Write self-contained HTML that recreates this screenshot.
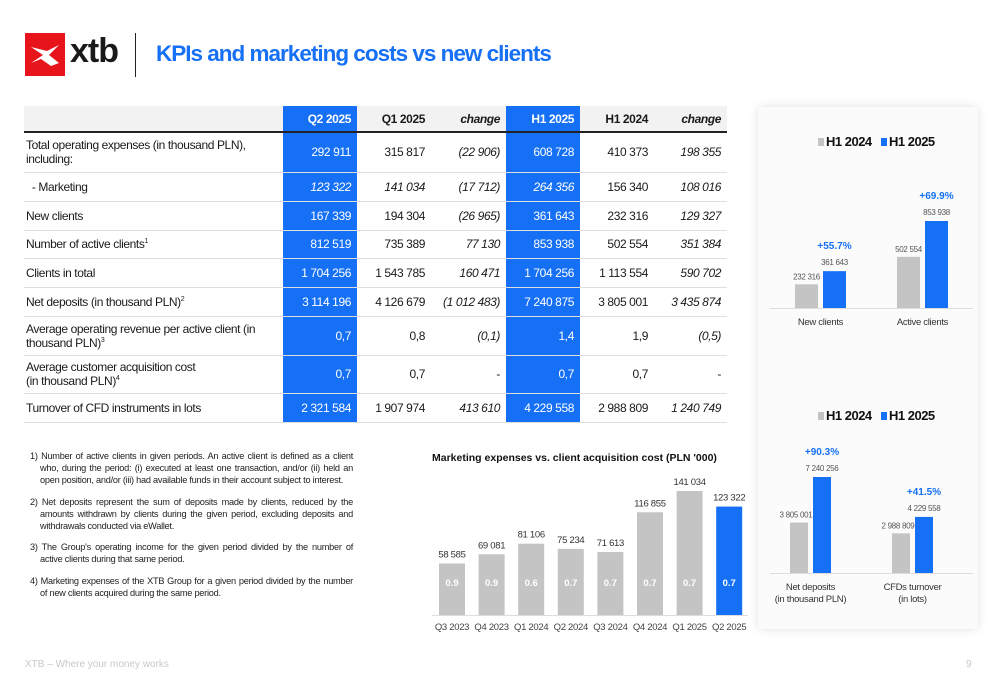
<!DOCTYPE html>
<html><head><meta charset="utf-8">
<style>
*{margin:0;padding:0;box-sizing:border-box}
body{width:1000px;height:685px;background:#fff;font-family:"Liberation Sans",sans-serif;position:relative;overflow:hidden;color:#1a1a1a}
.abs{position:absolute}
table{position:absolute;left:24px;top:106px;border-collapse:collapse;font-size:12px;letter-spacing:-0.4px}
td,th{border-bottom:1px solid #dedede;padding:0 6px;text-align:right}
th{height:26px;background:#f2f2f2;font-weight:bold;border-bottom:2px solid #222}
td.l{text-align:left;padding-left:2px}
.b{background:#1570f5;color:#fff}
.i{font-style:italic}
.notes{left:30px;top:450px;width:323px;font-size:9.2px;line-height:12.2px;color:#222;letter-spacing:-0.25px}
.notes p{margin-bottom:9px;padding-left:10px;text-indent:-10px;text-align:justify}
</style></head><body>
<div class="abs" style="left:25px;top:33px;width:40px;height:43px;background:#e8141c"><svg width="40" height="43"><path d="M6 14 L18 22 L6 30 L16 26 L26 33 L34 30 L24 22 L34 12 L22 18 Z" fill="#fff"/></svg></div>
<div class="abs" style="left:70px;top:32px;font-size:34px;font-weight:bold;letter-spacing:-1px">xtb</div>
<div class="abs" style="left:135px;top:33px;width:1px;height:44px;background:#222"></div>
<div class="abs" style="left:156px;top:41px;font-size:22.5px;font-weight:bold;color:#1570f5;letter-spacing:-1px">KPIs and marketing costs vs new clients</div>

<table>
<colgroup><col style="width:259px"><col style="width:74px"><col style="width:74px"><col style="width:75px"><col style="width:74px"><col style="width:74px"><col style="width:73px"></colgroup>
<tr><th></th><th class="b">Q2 2025</th><th>Q1 2025</th><th class="i">change</th><th class="b">H1 2025</th><th>H1 2024</th><th class="i">change</th></tr>
<tr style="height:40px"><td class="l">Total operating expenses (in thousand PLN),<br>including:</td><td class="b">292 911</td><td>315 817</td><td class="i">(22 906)</td><td class="b">608 728</td><td>410 373</td><td class="i">198 355</td></tr>
<tr style="height:29px"><td class="l">&nbsp;&nbsp;- Marketing</td><td class="b i">123 322</td><td class="i">141 034</td><td class="i">(17 712)</td><td class="b i">264 356</td><td>156 340</td><td class="i">108 016</td></tr>
<tr style="height:29px"><td class="l">New clients</td><td class="b">167 339</td><td>194 304</td><td class="i">(26 965)</td><td class="b">361 643</td><td>232 316</td><td class="i">129 327</td></tr>
<tr style="height:28px"><td class="l">Number of active clients<sup style="font-size:7px">1</sup></td><td class="b">812 519</td><td>735 389</td><td class="i">77 130</td><td class="b">853 938</td><td>502 554</td><td class="i">351 384</td></tr>
<tr style="height:29px"><td class="l">Clients in total</td><td class="b">1 704 256</td><td>1 543 785</td><td class="i">160 471</td><td class="b">1 704 256</td><td>1 113 554</td><td class="i">590 702</td></tr>
<tr style="height:29px"><td class="l">Net deposits (in thousand PLN)<sup style="font-size:7px">2</sup></td><td class="b">3 114 196</td><td>4 126 679</td><td class="i">(1 012 483)</td><td class="b">7 240 875</td><td>3 805 001</td><td class="i">3 435 874</td></tr>
<tr style="height:39px"><td class="l">Average operating revenue per active client (in<br>thousand PLN)<sup style="font-size:7px">3</sup></td><td class="b">0,7</td><td>0,8</td><td class="i">(0,1)</td><td class="b">1,4</td><td>1,9</td><td class="i">(0,5)</td></tr>
<tr style="height:38px"><td class="l">Average customer acquisition cost<br>(in thousand PLN)<sup style="font-size:7px">4</sup></td><td class="b">0,7</td><td>0,7</td><td>-</td><td class="b">0,7</td><td>0,7</td><td>-</td></tr>
<tr style="height:29px"><td class="l">Turnover of CFD instruments in lots</td><td class="b">2 321 584</td><td>1 907 974</td><td class="i">413 610</td><td class="b">4 229 558</td><td>2 988 809</td><td class="i">1 240 749</td></tr>
</table>

<div class="abs notes">
<p>1) Number of active clients in given periods. An active client is defined as a client who, during the period: (i) executed at least one transaction, and/or (ii) held an open position, and/or (iii) had available funds in their account subject to interest.</p>
<p>2) Net deposits represent the sum of deposits made by clients, reduced by the amounts withdrawn by clients during the given period, excluding deposits and withdrawals conducted via eWallet.</p>
<p>3) The Group's operating income for the given period divided by the number of active clients during that same period.</p>
<p>4) Marketing expenses of the XTB Group for a given period divided by the number of new clients acquired during the same period.</p>
</div>

<div class="abs" style="left:758px;top:107px;width:220px;height:522px;background:#fbfbfb;box-shadow:0 0 10px rgba(0,0,0,0.12);border-radius:4px"></div>

<svg class="abs" style="left:0;top:0" width="1000" height="685" id="charts" font-family="Liberation Sans, sans-serif"></svg>

<div class="abs" style="left:25px;top:659px;font-size:10px;color:#c8c8c8">XTB – Where your money works</div>
<div class="abs" style="left:966px;top:659px;font-size:10px;color:#c8c8c8">9</div>

<script>
const mkCats=["Q3 2023","Q4 2023","Q1 2024","Q2 2024","Q3 2024","Q4 2024","Q1 2025","Q2 2025"];
const mkValues=[58585,69081,81106,75234,71613,116855,141034,123322];
const mkLabels=["58 585","69 081","81 106","75 234","71 613","116 855","141 034","123 322"];
const cacValues=["0.9","0.9","0.6","0.7","0.7","0.7","0.7","0.7"];
const c1Cats=["New clients","Active clients"];
const c1H24=[232316,502554];
const c1H25=[361643,853938];
const c1L24=["232 316","502 554"];
const c1L25=["361 643","853 938"];
const c1Growth=["+55.7%","+69.9%"];
const c2Cats=[["Net deposits","(in thousand PLN)"],["CFDs turnover","(in lots)"]];
const c2H24=[3805001,2988809];
const c2H25=[7240256,4229558];
const c2L24=["3 805 001","2 988 809"];
const c2L25=["7 240 256","4 229 558"];
const c2Growth=["+90.3%","+41.5%"];

const svg=document.getElementById('charts');
const NS='http://www.w3.org/2000/svg';
function el(t,a,txt){const e=document.createElementNS(NS,t);for(const k in a)e.setAttribute(k,a[k]);if(txt!==undefined)e.textContent=txt;svg.appendChild(e);return e;}

let e=el('text',{x:432,y:461,'font-size':10.5,'font-weight':'bold',fill:'#111'},"Marketing expenses vs. client acquisition cost (PLN '000)");


const base=615, mkScale=124/141034;
const mx=i=>452+i*39.6;
e=el('line',{x1:432,x2:748,y1:base+0.5,y2:base+0.5,stroke:'#ddd'});


mkValues.forEach((v,i)=>{
  const h=v*mkScale, last=i===mkValues.length-1;
  let r=el('rect',{x:mx(i)-13,y:base-h,width:26,height:h,fill:last?'#1570f5':'#c4c4c4'});
  
  
  let t=el('text',{x:mx(i),y:base-h-6,'font-size':9.5,'text-anchor':'middle',fill:'#333','letter-spacing':'-0.3'},mkLabels[i]);
  
  
  t=el('text',{x:mx(i),y:586,'font-size':9.5,'font-weight':'bold','text-anchor':'middle',fill:'#fff'},cacValues[i]);
  
  
  t=el('text',{x:mx(i),y:630,'font-size':9.5,'text-anchor':'middle',fill:'#444','letter-spacing':'-0.3'},mkCats[i]);
  
  
});

function legend(y){
  let r=el('rect',{x:818,y:y-8,width:6,height:8,fill:'#c4c4c4'});
  
  
  let t=el('text',{x:826,y:y,'font-size':13,'font-weight':'bold',fill:'#111','letter-spacing':'-0.5'},'H1 2024');
  
  
  r=el('rect',{x:881,y:y-8,width:6,height:8,fill:'#1570f5'});
  
  
  t=el('text',{x:889,y:y,'font-size':13,'font-weight':'bold',fill:'#111','letter-spacing':'-0.5'},'H1 2025');
  
  
}
function pair(cfg){
  const {base,scale,xs,w,gap,h24,h25,l24,l25,g,cats,name,lx}=cfg;
  let ax=el('line',{x1:770,x2:973,y1:base+0.5,y2:base+0.5,stroke:'#ddd'});
  
  
  xs.forEach((x0,i)=>{
    const a=h24[i]*scale,b=h25[i]*scale,x1=x0+w+gap;
    let r=el('rect',{x:x0,y:base-a,width:w,height:a,fill:'#c4c4c4'});
    
    
    r=el('rect',{x:x1,y:base-b,width:w,height:b,fill:'#1570f5'});
    
    
    let t=el('text',{x:x0+w/2-lx,y:base-a-5,'font-size':8,'text-anchor':'middle',fill:'#555','letter-spacing':'-0.3'},l24[i]);
    
    
    t=el('text',{x:x1+w/2,y:base-b-6,'font-size':8,'text-anchor':'middle',fill:'#555','letter-spacing':'-0.3'},l25[i]);
    
    
    t=el('text',{x:x1+w/2,y:base-b-22,'font-size':10,'font-weight':'bold','text-anchor':'middle',fill:'#1570f5'},g[i]);
    
    
    const c=[].concat(cats[i]);
    c.forEach((s,k)=>{t=el('text',{x:x0+w+gap/2,y:base+17+k*12,'font-size':9.5,'text-anchor':'middle',fill:'#333','letter-spacing':'-0.3'},s);
      
      });
  });
}
legend(146);
pair({base:308,scale:87/853938,xs:[795,897],w:23,gap:5,h24:c1H24,h25:c1H25,l24:c1L24,l25:c1L25,g:c1Growth,cats:c1Cats,name:'clients',lx:0});
legend(420);
pair({base:573,scale:96/7240256,xs:[790,892],w:18,gap:5,h24:c2H24,h25:c2H25,l24:c2L24,l25:c2L25,g:c2Growth,cats:c2Cats,name:'deposits',lx:3});
</script>
</body></html>
